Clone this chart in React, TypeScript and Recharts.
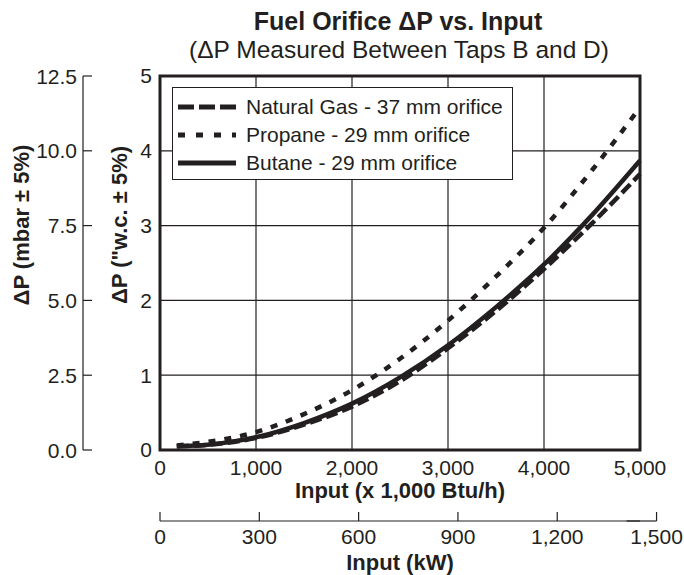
import { LineChart, Line, XAxis, YAxis, CartesianGrid, Legend, ReferenceArea, Label } from 'recharts';

// input in 1,000 Btu/h, pressure drop in "w.c.
const inputKbtu = [175, 500, 1000, 1500, 2000, 2500, 3000, 3500, 4000, 4500, 5000];
const naturalGas = [0.05, 0.07, 0.16, 0.34, 0.58, 0.92, 1.36, 1.86, 2.42, 3.03, 3.69];
const propane = [0.06, 0.11, 0.24, 0.48, 0.8, 1.22, 1.73, 2.32, 2.97, 3.74, 4.58];
const butane = [0.05, 0.07, 0.17, 0.36, 0.62, 0.97, 1.4, 1.91, 2.48, 3.14, 3.87];

const btuTicks = [0, 1000, 2000, 3000, 4000, 5000];
const kwTicks = [0, 300, 600, 900, 1200, 1500];
const wcTicks = [0, 1, 2, 3, 4, 5];
const mbarTicks = [0, 2.5, 5, 7.5, 10, 12.5];

const data = inputKbtu.map((x, i) => ({
  x,
  ng: naturalGas[i],
  propane: propane[i],
  butane: butane[i],
}));

const INK = '#231f20';
const FONT = '"Liberation Sans", Arial, Helvetica, sans-serif';

// axis ids: the axis that sorts first sits next to the plot
const WC = 'a-wc';
const MBAR = 'b-mbar';

const SERIES = [
  { key: 'ng', name: 'Natural Gas - 37 mm orifice', dash: '12 5', legendDash: '16 5' },
  { key: 'propane', name: 'Propane - 29 mm orifice', dash: '7 9', legendDash: '7 11' },
  { key: 'butane', name: 'Butane - 29 mm orifice', dash: undefined, legendDash: undefined },
];

const fmt = (v: number) => v.toLocaleString('en-US');

function LegendBox() {
  return (
    <div
      style={{
        width: 341,
        height: 93,
        boxSizing: 'border-box',
        border: `1.5px solid ${INK}`,
        background: '#fff',
        padding: '5px 0 0 5px',
        fontFamily: FONT,
      }}
    >
      {SERIES.map((s) => (
        <div key={s.key} style={{ display: 'flex', alignItems: 'center', height: 28 }}>
          <svg width={60} height={10}>
            <line x1={0} y1={5} x2={58} y2={5} stroke={INK} strokeWidth={5} strokeDasharray={s.legendDash} />
          </svg>
          <span style={{ marginLeft: 8, fontSize: 21, color: INK, whiteSpace: 'nowrap' }}>{s.name}</span>
        </div>
      ))}
    </div>
  );
}

function MbarTick(props: any) {
  const { x, y, payload } = props;
  return (
    <g>
      <line x1={x} y1={y} x2={x + 9} y2={y} stroke={INK} strokeWidth={1.2} />
      <text x={x - 6} y={y} dy="0.36em" textAnchor="end" fontSize={21} fill={INK}>
        {payload.value.toFixed(1)}
      </text>
    </g>
  );
}

function KwTick(props: any) {
  const { x, y, payload, index } = props;
  return (
    <g>
      {index === kwTicks.length - 1 && (
        <line x1={x - 30} y1={y} x2={x} y2={y} stroke={INK} strokeWidth={1.2} />
      )}
      <line x1={x} y1={y} x2={x} y2={y - 9} stroke={INK} strokeWidth={1.2} />
      <text x={x} y={y + 23} textAnchor="middle" fontSize={21} fill={INK}>
        {fmt(payload.value)}
      </text>
    </g>
  );
}

const rotatedTitle = (text: string, dx: number) => (props: any) => {
  const vb = props.viewBox;
  const cx = vb.x + dx;
  const cy = vb.y + vb.height / 2 - 38;
  return (
    <text
      transform={`translate(${cx}, ${cy}) rotate(-90)`}
      textAnchor="middle"
      dominantBaseline="central"
      fontSize={22}
      fontWeight="bold"
      fill={INK}
    >
      {text}
    </text>
  );
};

const bottomTitle = (text: string, dy: number) => (props: any) => {
  const vb = props.viewBox;
  return (
    <text x={vb.x + vb.width / 2} y={vb.y + dy} textAnchor="middle" fontSize={22} fontWeight="bold" fill={INK}>
      {text}
    </text>
  );
};

export default function App() {
  return (
    <div style={{ position: 'absolute', left: 0, top: 0, width: 684, height: 575, background: '#fff', fontFamily: FONT }}>
      <svg width={684} height={70} style={{ position: 'absolute', left: 0, top: 0, zIndex: 2 }}>
        <text x={398} y={30} textAnchor="middle" fontSize={25} fontWeight="bold" fill={INK}>
          Fuel Orifice ΔP vs. Input
        </text>
        <text x={399} y={58} textAnchor="middle" fontSize={24.5} fill={INK}>
          (ΔP Measured Between Taps B and D)
        </text>
      </svg>
      <LineChart
        width={684}
        height={575}
        data={data}
        margin={{ top: 76, right: 44, left: 3, bottom: 0 }}
        style={{ fontFamily: FONT }}
      >
        <CartesianGrid xAxisId="btu" yAxisId={WC} stroke={INK} strokeWidth={1.2} />
        <XAxis
          xAxisId="btu"
          dataKey="x"
          type="number"
          domain={[0, 5000]}
          ticks={btuTicks}
          interval={0}
          tickFormatter={fmt}
          axisLine={false}
          tickLine={false}
          tickSize={0}
          tickMargin={10}
          height={71}
          tick={{ fontSize: 21, fill: INK }}
        >
          <Label content={bottomTitle('Input (x 1,000 Btu/h)', 48)} />
        </XAxis>
        <XAxis
          xAxisId="kw"
          dataKey="x"
          type="number"
          domain={[0, 1450]}
          allowDataOverflow
          ticks={kwTicks}
          interval={0}
          tickSize={0}
          tickMargin={0}
          tickLine={false}
          axisLine={{ stroke: INK, strokeWidth: 1.2 }}
          height={54}
          tick={<KwTick />}
        >
          <Label content={bottomTitle('Input (kW)', 49)} />
        </XAxis>
        <YAxis
          yAxisId={WC}
          type="number"
          domain={[0, 5]}
          ticks={wcTicks}
          interval={0}
          axisLine={false}
          tickLine={false}
          tickSize={0}
          tickMargin={8}
          width={77}
          tick={{ fontSize: 21, fill: INK }}
        >
          <Label content={rotatedTitle('ΔP ("w.c.  ± 5%)', 36)} />
        </YAxis>
        <YAxis
          yAxisId={MBAR}
          type="number"
          domain={[0, 12.5]}
          allowDataOverflow
          ticks={mbarTicks}
          interval={0}
          tickSize={0}
          tickMargin={0}
          tickLine={false}
          axisLine={{ stroke: INK, strokeWidth: 1.2 }}
          width={80}
          tick={<MbarTick />}
        >
          <Label content={rotatedTitle('ΔP (mbar ± 5%)', 18)} />
        </YAxis>
        <ReferenceArea
          xAxisId="btu"
          yAxisId={WC}
          x1={0}
          x2={5000}
          y1={0}
          y2={5}
          fill="none"
          fillOpacity={0}
          stroke={INK}
          strokeWidth={3}
        />
        {SERIES.map((s) => (
          <Line
            key={s.key}
            xAxisId="btu"
            yAxisId={WC}
            type="monotone"
            dataKey={s.key}
            name={s.name}
            stroke={INK}
            strokeWidth={4.5}
            strokeDasharray={s.dash}
            dot={false}
            activeDot={false}
            isAnimationActive={false}
          />
        ))}
        <Legend
          content={<LegendBox />}
          layout="horizontal"
          verticalAlign="middle"
          align="center"
          wrapperStyle={{ left: 172, top: 87, width: 341, height: 93 }}
        />
      </LineChart>
    </div>
  );
}
